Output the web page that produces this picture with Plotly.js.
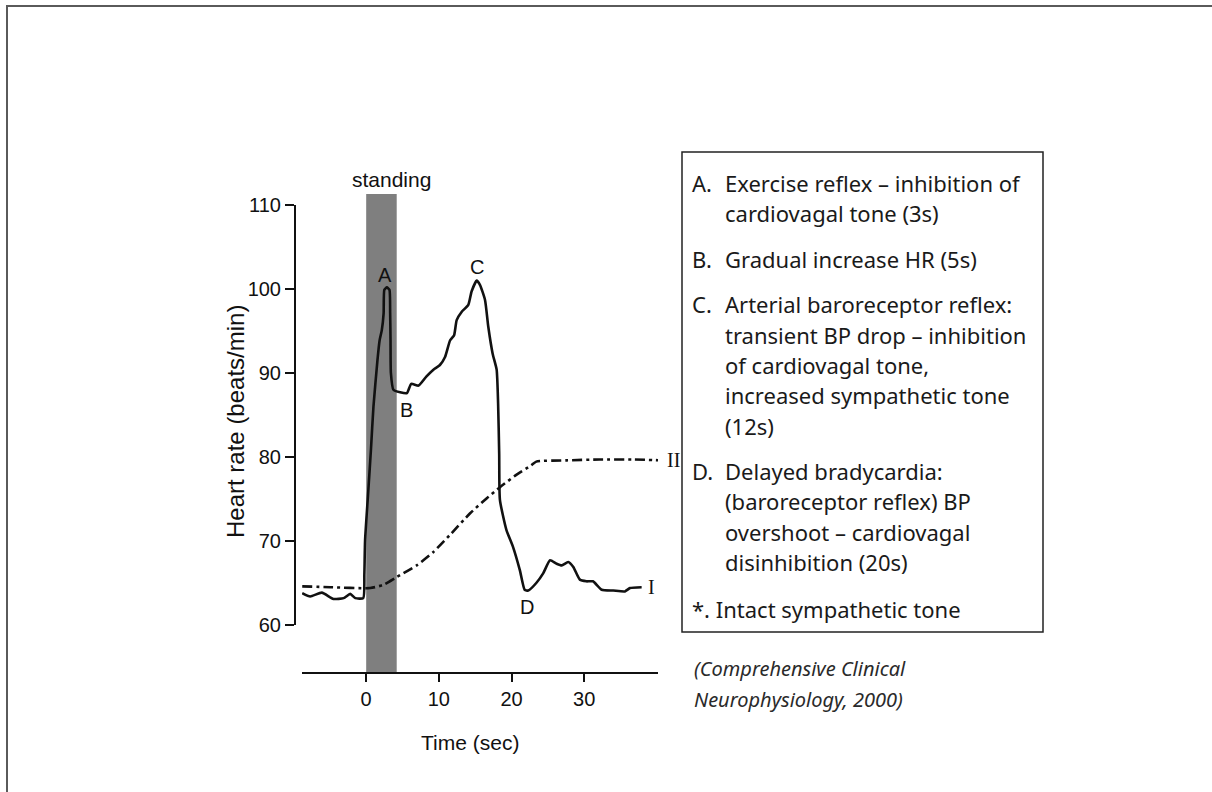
<!DOCTYPE html>
<html>
<head>
<meta charset="utf-8">
<script src="https://cdn.plot.ly/plotly-3.0.1.min.js"></script>
<style>
  html, body { margin: 0; padding: 0; background: #ffffff; }
  #wrap { position: relative; width: 1212px; height: 792px; overflow: hidden; }
  #chart { width: 1212px; height: 792px; }
  #frame { position: absolute; left: 6px; top: 5px; right: -10px; bottom: -10px;
           border-top: 2px solid #5a5a5a; border-left: 2px solid #5a5a5a; pointer-events: none; }
</style>
</head>
<body>
<div id="wrap">
  <div id="chart"></div>
  <div id="frame"></div>
</div>
<script>
// Heart rate response to active standing (time in seconds, HR in beats/min)
const timeHR = [-8.8, -7.7, -6.1, -4.5, -3.1, -2.2, -1.5, -0.4, -0.25, -0.15, 0.3, 0.65, 1.0, 1.55, 1.85,
  2.15, 2.4, 2.5, 2.85, 3.2, 3.3, 3.35, 3.4, 3.75, 4.67, 5.6, 6.2, 7.2, 8.3, 9.25, 10.15, 10.85,
  11.55, 12.1, 12.45, 13.15, 14.05, 14.5, 15.2, 15.65, 16.35, 16.8, 17.4, 17.95, 18.15, 18.3, 18.4,
  19.3, 20.2, 21.15, 21.8, 22.3, 23.4, 24.35, 25.3, 26.2, 26.9, 27.8, 28.5, 29.4, 30.3, 31.2, 32.4,
  34.0, 35.6, 36.3, 37.9];
const heartRate = [63.8, 63.4, 63.85, 63.1, 63.2, 63.7, 63.2, 63.2, 66.0, 70.1, 76.1, 80.8, 86.0, 91.5, 93.9,
  95.1, 97.1, 99.9, 100.2, 99.9, 97.1, 93.9, 90.0, 88.0, 87.7, 87.6, 88.7, 88.5, 89.6, 90.4, 90.95, 91.9,
  93.9, 94.5, 96.3, 97.3, 98.1, 99.7, 101.0, 100.5, 98.7, 95.5, 92.3, 90.4, 86.4, 80.4, 74.9,
  71.3, 69.3, 66.5, 64.2, 64.1, 65.0, 66.15, 67.7, 67.3, 67.1, 67.5, 66.9, 65.4, 65.2, 65.2, 64.2,
  64.1, 64.0, 64.4, 64.5];

// Second (dash-dot) response curve
const timeII = [-8.8, -4.9, 0.55, 2.4, 4.2, 6.95, 9.25, 11.5, 14.3, 16.6, 18.4, 20.7, 22.7, 23.4, 27.6, 32.1, 36.7, 40.8];
const rateII = [64.6, 64.5, 64.4, 64.8, 65.7, 67.1, 68.7, 70.7, 73.3, 75.1, 76.4, 77.9, 79.0, 79.45, 79.6, 79.7, 79.7, 79.6];

// Standing interval (s)
const standingStart = 0;
const standingEnd = 4.2;

// Axis ticks
const xTicks = [0, 10, 20, 30];
const yTicks = [60, 70, 80, 90, 100, 110];

// Point labels: [text, time, HR]
const pointLabels = [["A", 2.6, 101.7], ["B", 5.5, 85.6], ["C", 15.25, 102.6], ["D", 22.1, 62.1]];
const curveLabels = ["I", "II"];

// Explanatory notes: [marker, text lines]
const notes = [
  ["A.", ["Exercise reflex \u2013 inhibition of", "cardiovagal tone (3s)"]],
  ["B.", ["Gradual increase HR (5s)"]],
  ["C.", ["Arterial baroreceptor reflex:", "transient BP drop \u2013 inhibition", "of cardiovagal tone,", "increased sympathetic tone", "(12s)"]],
  ["D.", ["Delayed bradycardia:", "(baroreceptor reflex) BP", "overshoot \u2013 cardiovagal", "disinhibition (20s)"]]
];
const footnote = "*. Intact sympathetic tone";
const citation = ["(Comprehensive Clinical", "Neurophysiology, 2000)"];

// Plot-area geometry in pixels
const M = { l: 302, r: 554, t: 205, b: 119 };
const W = 1212, H = 792;
const PW = W - M.l - M.r, PH = H - M.t - M.b;
const px = v => (v - M.l) / PW;          // page x -> paper x
const py = v => (H - M.b - v) / PH;      // page y -> paper y

const axisFont = { family: "Liberation Sans, Arial, sans-serif", size: 20, color: "#111" };
const noteFont = { family: "Noto Sans, Open Sans, sans-serif", size: 22, color: "#1a1a1a" };
const serifFont = { family: "Liberation Serif, Times New Roman, serif", size: 20, color: "#111" };

const annotations = [];
annotations.push({ text: "standing", xref: "paper", yref: "paper", x: px(391), y: py(179),
  showarrow: false, xanchor: "center", yanchor: "middle", font: { ...axisFont, size: 21 } });
pointLabels.forEach(([t, x, y]) => annotations.push({ text: t, x: x, y: y, xref: "x", yref: "y",
  showarrow: false, xanchor: "center", yanchor: "middle", font: axisFont }));
// Curve identifiers at the right-hand ends of the traces
[[curveLabels[0], 651, 587], [curveLabels[1], 673, 460]].forEach(([t, x, y]) => annotations.push({
  text: t, xref: "paper", yref: "paper", x: px(x), y: py(y), showarrow: false,
  xanchor: "center", yanchor: "middle", font: serifFont }));
annotations.push({ text: "Time (sec)", xref: "paper", yref: "paper", x: px(470), y: py(742),
  showarrow: false, xanchor: "center", yanchor: "middle", font: { ...axisFont, size: 21 } });
annotations.push({ text: "Heart rate (beats/min)", xref: "paper", yref: "paper", x: px(235), y: py(422),
  showarrow: false, xanchor: "center", yanchor: "middle", textangle: -90, font: { ...axisFont, size: 24 } });

// Notes box text, one line per annotation
const lineGap = 30.3, itemGap = 45.5;
let yy = 183;
notes.forEach(([mark, lines]) => {
  annotations.push({ text: mark, xref: "paper", yref: "paper", x: px(690), y: py(yy),
    showarrow: false, xanchor: "left", yanchor: "middle", font: noteFont });
  lines.forEach((ln, i) => {
    annotations.push({ text: ln, xref: "paper", yref: "paper", x: px(723), y: py(yy + i * lineGap),
      showarrow: false, xanchor: "left", yanchor: "middle", font: noteFont });
  });
  yy += (lines.length - 1) * lineGap + itemGap;
});
annotations.push({ text: footnote, xref: "paper", yref: "paper", x: px(690), y: py(yy + 1.5),
  showarrow: false, xanchor: "left", yanchor: "middle", font: noteFont });
citation.forEach((ln, i) => annotations.push({ text: "<i>" + ln + "</i>", xref: "paper", yref: "paper",
  x: px(692), y: py(668 + i * 31), showarrow: false, xanchor: "left", yanchor: "middle",
  font: { ...noteFont, size: 20, color: "#2a2a2a" } }));

const shapes = [
  { type: "rect", layer: "below", xref: "x", yref: "paper", x0: standingStart, x1: standingEnd,
    y0: 0, y1: py(194), fillcolor: "#7f7f7f", line: { width: 0 } },
  { type: "rect", xref: "paper", yref: "paper", x0: px(682), x1: px(1043), y0: py(632), y1: py(152),
    line: { color: "#222", width: 1.5 }, fillcolor: "rgba(0,0,0,0)" }
];

const traces = [
  { x: timeII, y: rateII, mode: "lines", line: { color: "#111", width: 2.6, dash: "10px,4px,3px,4px", shape: "spline", smoothing: 0.6 },
    hoverinfo: "skip" },
  { x: timeHR, y: heartRate, mode: "lines", line: { color: "#111", width: 2.6, shape: "spline", smoothing: 0.5 },
    hoverinfo: "skip" }
];

const layout = {
  width: W, height: H, margin: M, showlegend: false,
  paper_bgcolor: "#ffffff", plot_bgcolor: "rgba(0,0,0,0)",
  font: axisFont,
  xaxis: { range: [-8.83, 40.15], anchor: "free", position: 0, showline: true, linecolor: "#111", linewidth: 2,
    ticks: "outside", ticklen: 8, tickwidth: 2, tickcolor: "#111", tickvals: xTicks, ticktext: xTicks.map(String),
    showgrid: false, zeroline: false, tickfont: axisFont },
  yaxis: { range: [60, 110], domain: [py(625), 1], anchor: "free", position: 0, shift: -7, showline: true,
    linecolor: "#111", linewidth: 2, ticks: "outside", ticklen: 9, tickwidth: 2, tickcolor: "#111",
    tickvals: yTicks, ticktext: yTicks.map(String), showgrid: false, zeroline: false, tickfont: axisFont },
  shapes: shapes,
  annotations: annotations
};

Plotly.newPlot("chart", traces, layout, { staticPlot: true, displayModeBar: false });
</script>
</body>
</html>
